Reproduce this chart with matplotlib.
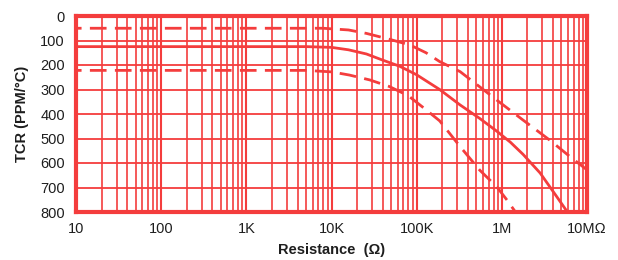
import matplotlib
matplotlib.use("Agg")
import matplotlib.pyplot as plt
import numpy as np
from matplotlib.ticker import FixedLocator, NullFormatter

plt.rcParams['font.family'] = ['Liberation Sans', 'DejaVu Sans']

RED = "#f43d3d"
TXT = "#1e1e1e"

# Data (log10 of resistance in ohms, TCR in ppm/°C)
upper_logR = [1, 3.9, 4.2, 4.41, 4.68, 4.92, 5.11, 5.27, 5.51, 5.74, 5.94, 6.25, 6.56, 6.8, 7.0]
upper_tcr = [50, 50, 57, 71, 95, 118, 150, 186, 227, 289, 343, 425, 506, 574, 628]

typ_logR = [1, 3.7, 4.0, 4.2, 4.41, 4.6, 4.8, 5.0, 5.27, 5.51, 5.74, 5.94, 6.1, 6.25, 6.45, 6.64, 6.77]
typ_tcr = [125, 125, 128, 138, 155, 180, 205, 240, 300, 363, 418, 470, 515, 565, 641, 735, 800]

lower_logR = [1, 3.7, 4.0, 4.21, 4.45, 4.68, 4.9, 5.1, 5.27, 5.51, 5.74, 5.94, 6.06, 6.17]
lower_tcr = [222, 222, 228, 241, 261, 288, 325, 380, 428, 533, 629, 697, 751, 805]

x_ticks = [1e1, 1e2, 1e3, 1e4, 1e5, 1e6, 1e7]
x_labels = ["10", "100", "1K", "10K", "100K", "1M", "10MΩ"]
y_ticks = [0, 100, 200, 300, 400, 500, 600, 700, 800]

fig = plt.figure(figsize=(6.18, 2.6), dpi=100)
ax = fig.add_axes([76/618, 1-212/260, (587-76)/618, (212-16)/260])

ax.set_xscale("log")
ax.set_xlim(10, 1e7)
ax.set_ylim(800, 0)

# grid
minor = [m * 10**d for d in range(1, 7) for m in range(2, 10)]
for xv in minor:
    ax.axvline(xv, color=RED, lw=1.2, zorder=1)
for xv in x_ticks:
    ax.axvline(xv, color=RED, lw=1.5, zorder=1)
for yv in y_ticks:
    ax.axhline(yv, color=RED, lw=1.3, zorder=1)

def R(lr):
    return [10**v for v in lr]

ax.plot(R(upper_logR), upper_tcr, color=RED, lw=2.0, dashes=(6, 3), zorder=3)
ax.plot(R(typ_logR), typ_tcr, color=RED, lw=2.0, zorder=3)
ax.plot(R(lower_logR), lower_tcr, color=RED, lw=2.0, dashes=(6, 3), zorder=3)
for ln in ax.lines[-3:]:
    if ln.get_linestyle() != '-':
        ln.set_dashes((6, 3))
ax.lines[-3].set_linestyle((4, (6, 3)))
ax.lines[-1].set_linestyle((4, (6, 3)))

for s in ax.spines.values():
    s.set_color(RED)
    s.set_linewidth(3)

ax.xaxis.set_major_locator(FixedLocator(x_ticks))
ax.xaxis.set_minor_locator(FixedLocator(minor))
ax.xaxis.set_minor_formatter(NullFormatter())
ax.set_xticklabels(x_labels)
ax.set_yticks(y_ticks)
ax.tick_params(which="both", length=0, labelsize=10.5, colors=TXT, pad=7)
ax.tick_params(axis="y", pad=8)

ax.set_xlabel("Resistance  (Ω)", fontsize=10.5, fontweight="bold", color=TXT, labelpad=5)
ax.set_ylabel("TCR (PPM/°C)", fontsize=10.5, fontweight="bold", color=TXT, labelpad=8)

fig.savefig("out.png", dpi=100)
